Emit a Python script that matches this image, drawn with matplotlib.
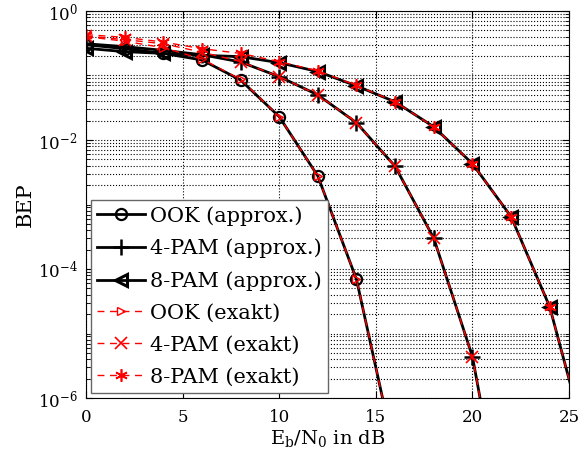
import numpy as np
import matplotlib.pyplot as plt
from matplotlib.ticker import LogLocator, NullFormatter, FixedLocator

plt.rcParams['font.family'] = ['DejaVu Serif']
plt.rcParams['mathtext.fontset'] = 'dejavuserif'

# Eb/N0 in dB, one value every 2 dB
snr_ook = [0, 2, 4, 6, 8, 10, 12, 14, 16]
snr_4pam = [0, 2, 4, 6, 8, 10, 12, 14, 16, 18, 20, 22]
snr_8pam = [0, 2, 4, 6, 8, 10, 12, 14, 16, 18, 20, 22, 24, 26]

# approximations
ook_approx = [0.30, 0.26, 0.22, 0.174, 0.085, 0.023, 2.76e-3, 6.9e-5, 1.3e-7]
pam4_approx = [0.31, 0.28, 0.245, 0.21, 0.162, 0.096, 0.050, 0.0185, 3.9e-3, 3.0e-4, 4.4e-6, 2.5e-9]
pam8_approx = [0.264, 0.234, 0.22, 0.205, 0.196, 0.158, 0.115, 0.069, 0.039, 0.016, 4.3e-3, 6.5e-4, 2.6e-5, 1.5e-7]

# exact values
ook_exact = [0.40, 0.34, 0.27, 0.18, 0.087, 0.023, 2.76e-3, 6.9e-5, 1.3e-7]
pam4_exact = [0.41, 0.36, 0.31, 0.23, 0.164, 0.096, 0.050, 0.0185, 3.9e-3, 3.0e-4, 4.4e-6, 2.5e-9]
pam8_exact = [0.43, 0.39, 0.33, 0.26, 0.22, 0.164, 0.118, 0.070, 0.039, 0.016, 4.3e-3, 6.5e-4, 2.6e-5, 1.5e-7]

fig = plt.figure(figsize=(5.83, 4.57), dpi=100)
ax = fig.add_axes([0.1475, 0.129, 0.8285, 0.847])

asterisk = (6, 2, 0)
dash = (5, 4)
ax.semilogy(snr_ook, ook_approx, 'k-', marker='o', mfc='none', ms=8, mew=1.6, lw=2, label='OOK (approx.)')
ax.semilogy(snr_4pam, pam4_approx, 'k-', marker='+', ms=12, mew=1.8, lw=2, label='4-PAM (approx.)')
ax.semilogy(snr_8pam, pam8_approx, 'k-', marker='<', mfc='none', ms=9, mew=2.2, lw=2, label='8-PAM (approx.)')
ax.semilogy(snr_ook, ook_exact, 'r--', dashes=dash, marker='>', mfc='none', ms=6, mew=1, lw=1, label='OOK (exakt)')
ax.semilogy(snr_4pam, pam4_exact, 'r--', dashes=dash, marker='x', ms=8, mew=1.2, lw=1, label='4-PAM (exakt)')
ax.semilogy(snr_8pam, pam8_exact, 'r--', dashes=dash, marker=asterisk, ms=9, mew=1.2, lw=1, label='8-PAM (exakt)')

ax.set_xlim(0, 25)
ax.set_ylim(1e-6, 1)
ax.set_xticks([0, 5, 10, 15, 20, 25])
ax.yaxis.set_major_locator(FixedLocator([1e-6, 1e-4, 1e-2, 1]))
ax.yaxis.set_minor_locator(LogLocator(base=10, subs=np.arange(1, 10), numticks=20))
ax.yaxis.set_minor_formatter(NullFormatter())
ax.tick_params(which='both', direction='in', top=True, right=True, labelsize=12)
ax.tick_params(which='major', length=5)
ax.tick_params(which='minor', length=3)
ax.tick_params(axis='x', pad=8)
ax.tick_params(axis='y', pad=6)

ax.grid(True, which='major', linestyle=':', color='k', lw=0.8)
ax.grid(True, which='minor', axis='y', linestyle=':', color='k', lw=0.8)

ax.set_xlabel(r'E$_\mathrm{b}$/N$_0$ in dB', fontsize=14, labelpad=1)
ax.set_ylabel('BEP', fontsize=15, labelpad=2)

leg = ax.legend(loc='lower left', fontsize=15, handlelength=2.3, handletextpad=0.2,
                labelspacing=0.62, borderaxespad=0.25, fancybox=False, framealpha=1,
                borderpad=0.3)
leg.get_frame().set_edgecolor('0.4')
leg.get_frame().set_linewidth(1)

fig.savefig('out.png', dpi=100)
